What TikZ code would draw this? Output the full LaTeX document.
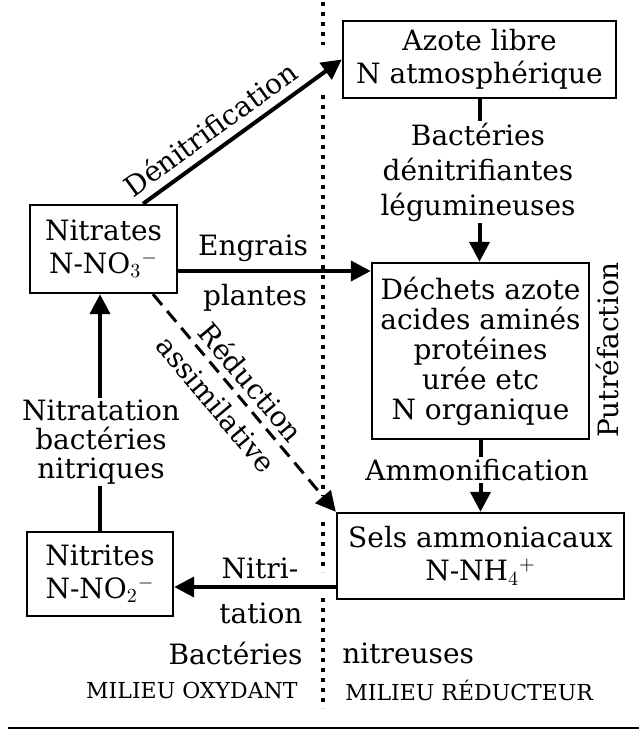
\documentclass[tikz,border=0pt]{standalone}
\usepackage{fontspec}
\setmainfont{DejaVu Serif}
\usetikzlibrary{arrows.meta}
\begin{document}
\begin{tikzpicture}[x=0.5pt,y=-0.5pt,
 box/.style={draw,line width=1.2pt,align=center,inner sep=0pt,font=\fontsize{14pt}{16.5pt}\selectfont},
 lbl/.style={align=center,inner sep=1pt,font=\fontsize{14pt}{17pt}\selectfont},
 small/.style={inner sep=0pt,font=\fontsize{11pt}{13pt}\selectfont},
 arr/.style={line width=2pt,-{Triangle[length=10pt,width=10pt]}},
 sep/.style={line width=1.8pt,dash pattern=on 1.8pt off 3.2pt}]
\useasboundingbox (0,0) rectangle (639,745);
% separator (dotted)
\draw[sep] (323,2) -- (323,45);
\draw[sep] (323,95) -- (323,496);
\draw[sep] (323,522) -- (323,572);
\draw[sep] (323,598) -- (323,708);
% boxes
\node[box,minimum width=136.5pt,minimum height=38.5pt] (azote) at (479.5,59.5) {Azote libre\\N atmosphérique};
\node[box,minimum width=108.5pt,minimum height=88pt,font=\fontsize{14pt}{15pt}\selectfont] (dechets) at (480.5,351) {Déchets azote\\acides aminés\\protéines\\urée etc\\N organique};
\node[box,minimum width=143.5pt,minimum height=43pt] (sels) at (480.5,556) {Sels ammoniacaux\\N-NH$_4{}^+$};
\node[box,minimum width=73.5pt,minimum height=44pt] (nitrates) at (103.5,249) {Nitrates\\N-NO$_3{}^-$};
\node[box,minimum width=73pt,minimum height=42pt] (nitrites) at (100,574) {Nitrites\\N-NO$_2{}^-$};
% connectors
\draw[arr] (azote.south) -- (azote.south |- dechets.north);
\node[lbl,fill=white,font=\fontsize{14pt}{17.5pt}\selectfont] (bact) at (478,172) {Bactéries\\dénitrifiantes\\légumineuses};
\draw[arr] (dechets.south) -- (dechets.south |- sels.north);
\node[lbl,fill=white] (ammo) at (477,470) {Ammonification};
\node[lbl,rotate=90] (putre) at (607,350) {Putréfaction};
\draw[arr] ([yshift=-11pt]nitrates.east) -- ([yshift=-11pt]nitrates.east -| dechets.west);
\node[lbl] (engrais) at (253,248) {Engrais};
\node[lbl] (plantes) at (255,298) {plantes};
\draw[arr] ([xshift=19.75pt]nitrates.north) -- (azote.west)
  node[lbl,pos=0.4,sloped,above=3pt] (denit) {Dénitrification};
\draw[arr] (nitrites.north) -- (nitrites.north |- nitrates.south);
\node[lbl,fill=white,font=\fontsize{14pt}{14.5pt}\selectfont] (nitratation) at (101,442) {Nitratation\\bactéries\\nitriques};
\draw[line width=1.5pt,dash pattern=on 7pt off 4pt,-{Triangle[length=10pt,width=10pt]}]
  ([xshift=24.75pt]nitrates.south) -- (sels.north west)
  node[lbl,pos=0.46,sloped,above=2pt] (reduc) {Réduction}
  node[lbl,pos=0.44,sloped,below=4pt] (assim) {assimilative};
\draw[arr] ([yshift=-15.5pt]sels.west) -- ([yshift=-15.5pt]sels.west -| nitrites.east);
\node[lbl] (nitri) at (260,568) {Nitri-};
\node[lbl] (tation) at (261,613) {tation};
\node[lbl,anchor=east] (bact2) at (305,653) {Bactéries};
\node[lbl,anchor=west] (nitreuses) at (340,653) {nitreuses};
\node[small,anchor=east] (oxy) at (298,690) {MILIEU OXYDANT};
\node[small,anchor=west] (red) at (345,690) {MILIEU RÉDUCTEUR};
\draw[line width=1pt] (8,728) -- (639,728);
\end{tikzpicture}
\end{document}
